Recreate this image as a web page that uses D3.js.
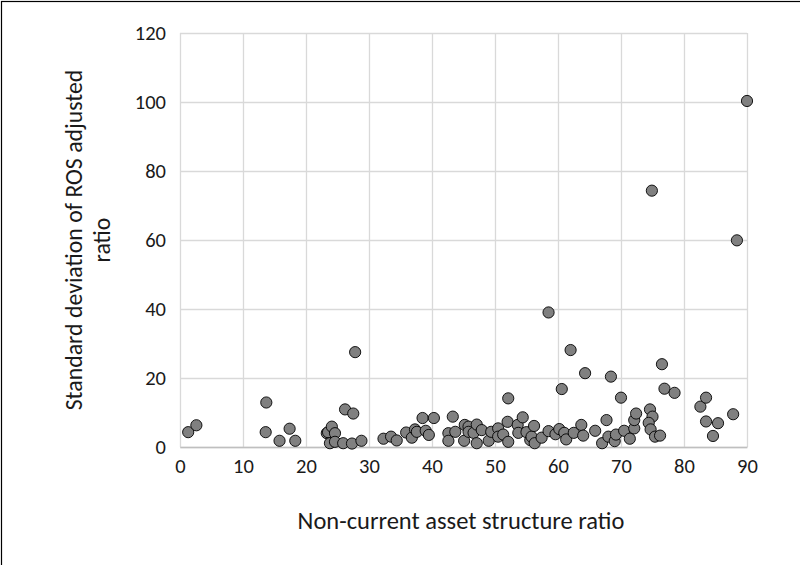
<!DOCTYPE html>
<html>
<head>
<meta charset="utf-8">
<script src="https://cdn.jsdelivr.net/npm/d3@7"></script>
<style>
  html, body { margin: 0; padding: 0; background: #fff; }
  svg { display: block; }
  text { font-family: Carlito, Lato, "Open Sans", sans-serif; fill: #1a1a1a; }
</style>
</head>
<body>
<svg id="chart" width="800" height="565"></svg>
<script>
// Non-current asset structure ratio (x) for each firm
const assetRatio = [
  1.3, 2.6, 13.7, 13.6, 15.8, 17.4, 18.3, 23.3, 23.5, 24.1,
  24.6, 23.8, 24.6, 25.9, 27.3, 28.8, 26.2, 27.5, 27.8, 32.3,
  33.5, 34.4, 35.9, 36.8, 37.3, 37.6, 38.5, 40.3, 39.0, 39.5,
  43.3, 42.6, 42.6, 43.7, 45.1, 45.2, 45.8, 45.8, 46.6, 47.1,
  47.1, 47.9, 49.0, 49.4, 50.5, 50.5, 51.3, 52.1, 52.0, 52.1,
  53.6, 54.4, 53.7, 55.0, 55.6, 55.8, 56.2, 56.3, 57.4, 58.5,
  58.5, 59.6, 60.2, 61.0, 61.3, 60.6, 62.0, 62.5, 63.7, 64.0,
  64.3, 65.9, 67.0, 67.7, 68.0, 68.4, 69.0, 69.2, 70.0, 70.5,
  71.4, 72.1, 72.1, 72.4, 74.6, 75.0, 74.4, 74.7, 75.4, 76.2,
  74.9, 76.5, 76.9, 78.5, 82.6, 83.5, 83.5, 85.4, 84.6, 87.8,
  88.4, 90.0
];
// Standard deviation of ROS adjusted ratio (y) for the same firms
const rosStdDev = [
  4.3, 6.3, 12.9, 4.3, 1.8, 5.3, 1.8, 4.0, 4.3, 5.9,
  4.0, 1.1, 1.5, 1.1, 1.0, 1.8, 10.9, 9.7, 27.5, 2.4,
  3.0, 1.9, 4.2, 2.7, 5.1, 4.4, 8.4, 8.4, 4.7, 3.5,
  8.8, 4.0, 1.8, 4.4, 1.8, 6.4, 5.9, 4.4, 4.1, 1.1,
  6.5, 4.9, 1.8, 4.4, 5.4, 3.0, 3.6, 1.5, 7.3, 14.1,
  6.4, 8.6, 4.1, 4.3, 2.0, 3.0, 6.1, 1.1, 2.7, 4.6,
  39.0, 3.7, 5.2, 4.1, 2.2, 16.8, 28.1, 4.1, 6.4, 3.3,
  21.4, 4.7, 1.1, 7.8, 3.0, 20.4, 1.7, 3.6, 14.3, 4.7,
  2.4, 5.4, 7.8, 9.7, 10.9, 8.8, 7.0, 5.1, 3.0, 3.3,
  74.3, 24.0, 16.9, 15.7, 11.7, 14.3, 7.4, 6.9, 3.2, 9.5,
  59.9, 100.3
];
const xTicks = [0, 10, 20, 30, 40, 50, 60, 70, 80, 90];
const yTicks = [0, 20, 40, 60, 80, 100, 120];
const xTitle = "Non-current asset structure ratio";
const yTitleLines = ["Standard deviation of ROS adjusted", "ratio"];

const svg = d3.select("#chart");

// outer chart frame
svg.append("rect")
  .attr("x", 1.5).attr("y", 1.5)
  .attr("width", 810).attr("height", 580)
  .attr("fill", "none").attr("stroke", "#000").attr("stroke-width", 1.2);

const plot = { left: 180, right: 747, top: 33, bottom: 447 };
const x = d3.scaleLinear().domain([0, 90]).range([plot.left, plot.right]);
const y = d3.scaleLinear().domain([0, 120]).range([plot.bottom, plot.top]);

// gridlines
const grid = svg.append("g").attr("stroke", "#d9d9d9").attr("stroke-width", 1.3);
grid.selectAll("line.v").data(xTicks).join("line")
  .attr("x1", d => Math.round(x(d)) + 0.5).attr("x2", d => Math.round(x(d)) + 0.5)
  .attr("y1", plot.top).attr("y2", plot.bottom);
grid.selectAll("line.h").data(yTicks).join("line")
  .attr("x1", plot.left).attr("x2", plot.right)
  .attr("y1", d => Math.round(y(d)) + 0.5).attr("y2", d => Math.round(y(d)) + 0.5);

// axes (labels only)
const xAxis = svg.append("g")
  .attr("transform", `translate(0,${plot.bottom})`)
  .call(d3.axisBottom(x).tickValues(xTicks).tickSize(0).tickPadding(11));
xAxis.select(".domain").attr("stroke", "#bfbfbf").attr("stroke-width", 1.3);
xAxis.selectAll("text").style("font-size", "20.5px").attr("fill", "#1a1a1a");

const yAxis = svg.append("g")
  .attr("transform", `translate(${plot.left},0)`)
  .call(d3.axisLeft(y).tickValues(yTicks).tickSize(0).tickPadding(14));
yAxis.select(".domain").remove();
yAxis.selectAll("text").style("font-size", "20.5px").attr("fill", "#1a1a1a");

// points
svg.append("g").selectAll("circle")
  .data(assetRatio.map((v, i) => [v, rosStdDev[i]]))
  .join("circle")
  .attr("cx", d => x(d[0]))
  .attr("cy", d => y(d[1]))
  .attr("r", 5.6)
  .attr("fill", "#808080")
  .attr("stroke", "#000")
  .attr("stroke-width", 0.9);

// axis titles
svg.append("text")
  .attr("x", 461)
  .attr("y", 529)
  .attr("text-anchor", "middle")
  .style("font-size", "24.5px")
  .text(xTitle);

const yt = svg.append("text")
  .attr("transform", "translate(82,240) rotate(-90)")
  .attr("text-anchor", "middle")
  .style("font-size", "23.8px");
yTitleLines.forEach((line, i) => {
  yt.append("tspan").attr("x", 0).attr("dy", i === 0 ? 0 : 28).text(line);
});
</script>
</body>
</html>
